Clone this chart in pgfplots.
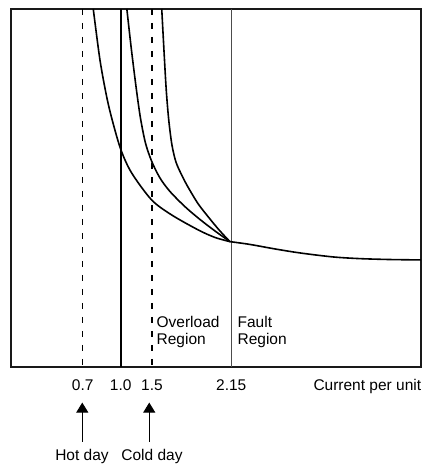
\documentclass[border=0pt]{standalone}
\usepackage{pgfplots}
\pgfplotsset{compat=1.18}
\usetikzlibrary{arrows.meta}
\usepackage{fontspec}
\setmainfont{Liberation Sans}
\newcommand{\chartfont}{\fontsize{15.5bp}{17.5bp}\selectfont}
\begin{document}
\begin{tikzpicture}[font=\chartfont]
\begin{axis}[
  scale only axis,
  width=410bp, height=358bp,
  xmin=11, xmax=421, ymin=9, ymax=367,
  y dir=reverse,
  axis line style={line width=1.7bp, black!90},
  xtick={82.7,120.7,152,231.3},
  xticklabels={0.7,1.0,1.5,2.15},
  ytick=\empty,
  major tick length=0pt,
  xticklabel style={inner sep=0pt, anchor=north, yshift=-12.5bp, font=\chartfont},
  clip=false,
]
% invisible frame for picture proportions
\path (axis cs:0,0) rectangle (axis cs:425,464);
% reference lines
\addplot[black, line width=1.6bp, dash pattern=on 6bp off 8bp] coordinates {(82.5,9) (82.5,367)};
\addplot[black, line width=1.6bp, dash pattern=on 6bp off 8bp] coordinates {(151.8,9) (151.8,367)};
\addplot[black, line width=1.6bp] coordinates {(120.9,9) (120.9,367)};
\addplot[black!70, line width=1.3bp] coordinates {(231.5,9) (231.5,367)};
% curves
\addplot[black, line width=1.6bp, smooth, tension=0.5] coordinates {
 (93.3,9) (100,60) (106.7,96.7) (112.5,121) (121,150) (131.7,173) (151.7,200) (171.7,215) (198.3,230) (215,237.5) (230,241.7)};
\addplot[black, line width=1.6bp, smooth, tension=0.5] coordinates {
 (126.9,9) (131.5,50) (136.5,90) (140.5,118) (145.5,143) (151.8,161.5) (160,178) (170,191.5) (185,206.7) (200,219.5) (215,231) (230,241.7)};
\addplot[black, line width=1.6bp, smooth, tension=0.5] coordinates {
 (161.8,9) (164,50) (166.3,90) (168.8,120) (172,145) (176,162) (181.7,175) (188,187) (198.3,204) (210,219) (220,231) (230,241.7)};
\addplot[black, line width=1.6bp, smooth, tension=0.5] coordinates {
 (230,241.7) (250,244.5) (275,249) (300,253) (333,257) (360,258.7) (390,259.6) (421,260)};
% texts
\node[anchor=north west, inner sep=0pt, align=left] at (axis cs:156.5,316) {Overload\\Region};
\node[anchor=north west, inner sep=0pt, align=left] at (axis cs:237.5,316) {Fault\\Region};
\node[anchor=north east, inner sep=0pt] at (axis cs:421.5,379.5) {Current per unit};
% arrows
\draw[line width=0.9bp, -{Triangle[width=12bp,length=10bp]}] (axis cs:82.3,441.7) -- (axis cs:82.3,402.7);
\draw[line width=0.9bp, -{Triangle[width=12bp,length=10bp]}] (axis cs:149.3,441.7) -- (axis cs:149.3,402.7);
\node[anchor=north, inner sep=0pt] at (axis cs:82,449.5) {Hot day};
\node[anchor=north, inner sep=0pt] at (axis cs:152,449.5) {Cold day};
\end{axis}
\end{tikzpicture}
\end{document}
